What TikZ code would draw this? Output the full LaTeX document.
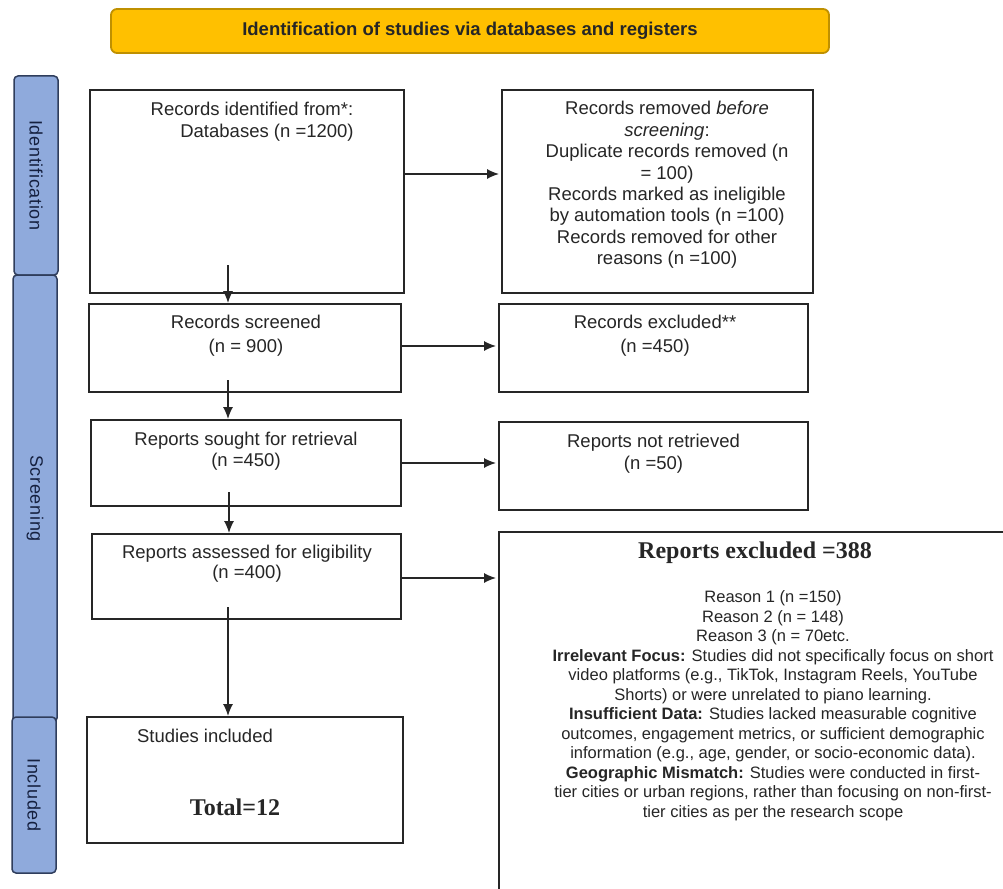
\documentclass[tikz,border=0pt]{standalone}
\usepackage{fontspec}
\setmainfont{Liberation Sans}
\newfontfamily\serifface{Liberation Serif}
\newfontfamily\tabface[LetterSpace=4]{Liberation Sans}
\usetikzlibrary{arrows.meta}

\definecolor{bannerfill}{HTML}{FFC000}
\definecolor{bannerline}{HTML}{BF9000}
\definecolor{tabfill}{HTML}{8FAADC}
\definecolor{tabline}{HTML}{2F3D5C}
\definecolor{tabtext}{HTML}{15203F}
\definecolor{inktext}{HTML}{262626}

\tikzset{
  banner/.style={draw=bannerline, fill=bannerfill, line width=1.8pt, rounded corners=6pt,
    text=black!85, font=\bfseries\fontsize{18.5}{22}\selectfont},
  phasetab/.style={draw=tabline, fill=tabfill, line width=1.5pt, rounded corners=4pt,
    rotate=-90, inner sep=0pt, text=tabtext, font=\tabface\fontsize{18}{20}\selectfont},
  flowbox/.style={draw=black!85, line width=1.8pt, inner sep=0pt},
  boxtext/.style={align=center, inner sep=0pt, text=inktext, font=\fontsize{18.5}{22}\selectfont},
  flowarrow/.style={draw=black!85, line width=1.6pt, shorten >=2pt, -{Latex[length=12pt,width=10pt]}}
}

\begin{document}
\begin{tikzpicture}[x=1pt, y=-1pt]

  \useasboundingbox (0,0) rectangle (1003,888);
  \fill[white] (0,0) rectangle (1003,888);
  \clip (0,0) rectangle (1003,888);

  % heading and phase tabs
  \node[banner, minimum width=718pt, minimum height=44pt] (head) at (470,31)
    {Identification of studies via databases and registers};
  \node[phasetab, minimum width=199pt, minimum height=44pt] (tabident) at (36,175.5) {Identification};
  \node[phasetab, minimum width=447pt, minimum height=44pt] (tabscreen) at (35,498.5) {Screening};
  \node[phasetab, minimum width=156pt, minimum height=44pt] (tabincl) at (34,795) {Included};

  % left column
  \node[flowbox, minimum width=314pt, minimum height=203pt] (ident) at (247,191.5) {};
  \node[boxtext] (identtext) at (252,121.5)
    {Records identified from*:\\\hspace*{30pt}Databases (n =1200)};
  \node[flowbox, minimum width=312pt, minimum height=88pt] (screened) at (245,348) {};
  \node[boxtext, font=\fontsize{18.5}{24}\selectfont] (screenedtext) at (246,336)
    {Records screened\\(n = 900)};
  \node[flowbox, minimum width=310pt, minimum height=86pt] (sought) at (246,463) {};
  \node[boxtext, font=\fontsize{18.5}{21}\selectfont] (soughttext) at (246,451.5)
    {Reports sought for retrieval\\(n =450)};
  \node[flowbox, minimum width=309pt, minimum height=85pt] (assessed) at (246.5,576.5) {};
  \node[boxtext, font=\fontsize{18.5}{20}\selectfont] (assessedtext) at (247,564)
    {Reports assessed for eligibility\\(n =400)};
  \node[flowbox, minimum width=316pt, minimum height=126pt] (included) at (245,780) {};
  \node[boxtext] (studiestext) at (205,736) {Studies included};
  \node[boxtext, font=\serifface\bfseries\fontsize{24}{28}\selectfont] (totaltext) at (235,807) {Total=12};

  % right column
  \node[flowbox, minimum width=311pt, minimum height=203pt] (removed) at (657.5,191.5) {};
  \node[boxtext, font=\fontsize{18.5}{21.4}\selectfont] (removedtext) at (667,185)
    {Records removed \textit{before}\\\textit{screening}:\\Duplicate records removed (n\\= 100)\\
     Records marked as ineligible\\by automation tools (n =100)\\Records removed for other\\reasons (n =100)};
  \node[flowbox, minimum width=309pt, minimum height=88pt] (excluded) at (653.5,348) {};
  \node[boxtext, font=\fontsize{18.5}{24}\selectfont] (excludedtext) at (655,336)
    {Records excluded**\\(n =450)};
  \node[flowbox, minimum width=309pt, minimum height=88pt] (notretr) at (653.5,466) {};
  \node[boxtext] (notretrtext) at (653.5,454) {Reports not retrieved\\(n =50)};
  \node[flowbox, minimum width=551pt, minimum height=408pt] (repexcl) at (774.5,736) {};
  \node[boxtext, font=\serifface\bfseries\fontsize{24}{28}\selectfont] (repexcltitle) at (755,553)
    {Reports excluded =388};
  \node[boxtext, font=\fontsize{16.5}{19.5}\selectfont] (repexcltext) at (773,705.5)
    {Reason 1 (n =150)\\Reason 2 (n = 148)\\Reason 3 (n = 70etc.\\
     \textbf{Irrelevant Focus:} Studies did not specifically focus on short\\
     video platforms (e.g., TikTok, Instagram Reels, YouTube\\
     Shorts) or were unrelated to piano learning.\\
     \textbf{Insufficient Data:} Studies lacked measurable cognitive\\
     outcomes, engagement metrics, or sufficient demographic\\
     information (e.g., age, gender, or socio-economic data).\\
     \textbf{Geographic Mismatch:} Studies were conducted in first-\\
     tier cities or urban regions, rather than focusing on non-first-\\
     tier cities as per the research scope};

  % downward arrows
  \coordinate (v1) at (228,265);
  \coordinate (v2) at (228,380);
  \coordinate (v3) at (229,492);
  \coordinate (v4) at (228,607);
  \draw[flowarrow, shorten >=0pt] (v1) -- (v1 |- screened.north);
  \draw[flowarrow, shorten >=0pt] (v2) -- (v2 |- sought.north);
  \draw[flowarrow, shorten >=0pt] (v3) -- (v3 |- assessed.north);
  \draw[flowarrow, shorten >=0pt] (v4) -- (v4 |- included.north);

  % sideways arrows
  \coordinate (h1) at ([yshift=17.5pt]ident.east);
  \coordinate (h2) at ([yshift=2pt]screened.east);
  \coordinate (h3) at (sought.east);
  \coordinate (h4) at ([yshift=-1.5pt]assessed.east);
  \draw[flowarrow] (h1) -- (h1 -| removed.west);
  \draw[flowarrow] (h2) -- (h2 -| excluded.west);
  \draw[flowarrow] (h3) -- (h3 -| notretr.west);
  \draw[flowarrow] (h4) -- (h4 -| repexcl.west);

\end{tikzpicture}
\end{document}
